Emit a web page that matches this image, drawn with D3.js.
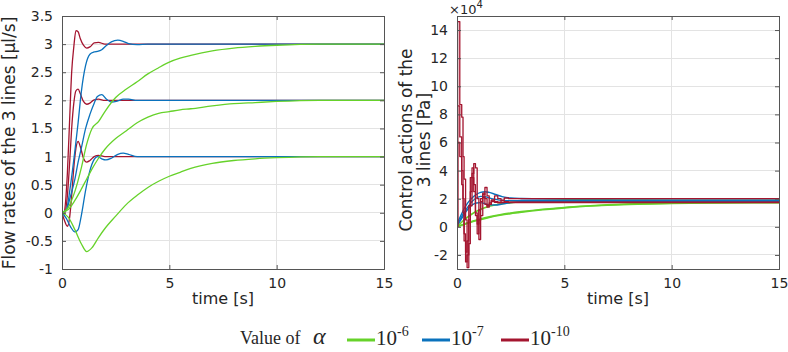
<!DOCTYPE html>
<html><head><meta charset="utf-8">
<script src="https://cdn.jsdelivr.net/npm/d3@7"></script>
<style>
body{margin:0;background:#fff;}
svg{display:block;}
text{font-family:"DejaVu Sans",Verdana,sans-serif;fill:#262626;}
</style></head>
<body>
<svg id="chart" width="788" height="352"></svg>
<script>
// ---------- DATA ----------
const xTicks = [0, 5, 10, 15];
const flowYTicks = [-1, -0.5, 0, 0.5, 1, 1.5, 2, 2.5, 3, 3.5];
const flowYLabels = ["-1", "-0.5", "0", "0.5", "1", "1.5", "2", "2.5", "3", "3.5"];
const ctrlYTicks = [-2, 0, 2, 4, 6, 8, 10, 12, 14];

const alphaExp = ["-6", "-7", "-10"];
const alphaColors = ["#66d22a", "#0a72bd", "#a4152f"];

// Flow rates, alpha = 1e-6 (green)
const flowGreenT = [0, 0.3, 0.6, 0.9, 1.15, 1.4, 1.7, 2.0, 2.5, 3.0, 3.5, 4.0, 4.5, 5, 5.5, 6, 7, 8, 9, 10, 12, 15];
const flowGreen1 = [0, -0.08, -0.3, -0.55, -0.69, -0.62, -0.44, -0.28, -0.06, 0.15, 0.31, 0.45, 0.56, 0.65, 0.72, 0.79, 0.88, 0.93, 0.96, 0.98, 1.0, 1.0];
const flowGreen2 = [0, 0.06, 0.22, 0.42, 0.6, 0.78, 0.97, 1.13, 1.32, 1.46, 1.6, 1.7, 1.77, 1.8, 1.83, 1.85, 1.9, 1.94, 1.96, 1.98, 2.0, 2.0];
const flowGreen3 = [0, 0.1, 0.38, 0.8, 1.22, 1.5, 1.62, 1.8, 2.05, 2.2, 2.33, 2.47, 2.58, 2.68, 2.75, 2.8, 2.88, 2.93, 2.96, 2.98, 3.0, 3.0];

// Flow rates, alpha = 1e-7 (blue)
const flowBlueT = [0, 0.2, 0.4, 0.6, 0.75, 0.9, 1.1, 1.3, 1.5, 1.65, 1.85, 2.05, 2.3, 2.6, 2.85, 3.1, 3.5, 4, 15];
const flowBlue1 = [0, -0.1, -0.25, -0.34, -0.3, -0.05, 0.4, 0.75, 0.95, 1.0, 0.96, 0.94, 0.97, 1.04, 1.06, 1.04, 1.0, 1.0, 1.0];
const flowBlue2 = [0, 0.05, 0.3, 0.6, 0.9, 1.15, 1.5, 1.75, 1.95, 2.07, 2.1, 2.03, 1.97, 1.99, 2.02, 2.02, 2.0, 2.0, 2.0];
const flowBlue3 = [0, 0.05, 0.5, 1.1, 1.6, 2.15, 2.62, 2.82, 2.86, 2.87, 2.9, 2.97, 3.04, 3.07, 3.05, 3.01, 2.99, 3.0, 3.0];

// Flow rates, alpha = 1e-10 (red)
const flowRedT = [0, 0.1, 0.25, 0.35, 0.45, 0.55, 0.65, 0.75, 0.85, 1.0, 1.15, 1.3, 1.5, 1.7, 2.0, 15];
const flowRed1 = [0, -0.12, -0.24, -0.1, 0.3, 0.8, 1.15, 1.27, 1.18, 0.97, 0.9, 0.93, 1.0, 1.02, 1.0, 1.0];
const flowRed2 = [0, -0.02, 0.3, 0.85, 1.5, 1.95, 2.17, 2.2, 2.12, 1.98, 1.93, 1.95, 2.01, 2.02, 2.0, 2.0];
const flowRed3 = [0, 0.02, 0.7, 1.6, 2.5, 2.95, 3.24, 3.22, 3.1, 2.98, 2.93, 2.95, 3.02, 3.03, 3.0, 3.0];

// Control actions (x 1e4 Pa), alpha = 1e-6 (green)
const ctrlGreenT = [0, 0.25, 0.5, 0.75, 1.0, 1.5, 2.0, 2.5, 3, 4, 5, 6, 7, 8, 10, 12, 15];
const ctrlGreen1 = [0, 0.13, 0.26, 0.38, 0.48, 0.67, 0.82, 0.94, 1.04, 1.21, 1.35, 1.46, 1.54, 1.6, 1.67, 1.7, 1.72];
const ctrlGreen2 = [0, 0.15, 0.29, 0.41, 0.52, 0.71, 0.86, 0.98, 1.08, 1.25, 1.38, 1.48, 1.56, 1.62, 1.68, 1.72, 1.74];
const ctrlGreen3 = [0, 0.38, 0.7, 0.97, 1.18, 1.46, 1.62, 1.72, 1.79, 1.87, 1.92, 1.95, 1.97, 1.98, 2.0, 2.0, 2.0];

// Control actions, alpha = 1e-7 (blue)
const ctrlBlueT = [0, 0.1, 0.3, 0.5, 0.7, 0.9, 1.1, 1.3, 1.5, 1.8, 2.1, 2.5, 3, 4, 15];
const ctrlBlue1 = [0.1, 0.3, 0.8, 1.25, 1.55, 1.7, 1.72, 1.65, 1.56, 1.55, 1.62, 1.72, 1.78, 1.79, 1.78];
const ctrlBlue2 = [0.2, 0.4, 0.95, 1.4, 1.8, 2.05, 2.17, 2.15, 2.06, 1.95, 1.88, 1.86, 1.87, 1.88, 1.88];
const ctrlBlue3 = [0.3, 0.55, 1.2, 1.7, 2.05, 2.3, 2.45, 2.5, 2.45, 2.3, 2.15, 2.05, 2.02, 2.0, 2.0];

// Control actions, alpha = 1e-10 (red, stair steps)
const ctrlRedT = [0, 0.03, 0.13, 0.22, 0.28, 0.33, 0.4, 0.47, 0.55, 0.62, 0.7, 0.78, 0.86, 0.94, 1.02, 1.1, 1.2, 1.3, 1.4, 1.5, 1.6, 1.75, 1.9, 2.05, 2.2, 2.4, 2.6, 15];
const ctrlRed1 = [0, 6.0, 5.0, 3.0, 1.0, -1.0, -2.5, -2.0, 0.5, 2.5, 3.5, 2.5, 0.8, 0.2, 1.2, 2.0, 2.1, 1.6, 1.4, 1.6, 1.8, 1.75, 1.7, 1.72, 1.74, 1.73, 1.73, 1.73];
const ctrlRed2 = [0, 8.6, 6.4, 4.0, 2.0, -0.5, -1.8, -1.0, 1.5, 3.5, 4.2, 3.0, 1.0, -0.5, 0.5, 1.8, 2.4, 2.0, 1.5, 1.7, 1.9, 1.8, 1.75, 1.85, 1.8, 1.75, 1.75, 1.75];
const ctrlRed3 = [0, 14.6, 8.7, 7.8, 5.0, 3.4, 0.5, -2.9, -1.2, 1.5, 3.8, 4.5, 4.2, 2.0, -0.9, 0.8, 2.3, 2.8, 2.2, 1.6, 1.9, 2.2, 2.0, 1.9, 2.05, 2.0, 2.0, 2.0];

// ---------- DRAW ----------
const svg = d3.select("#chart");
const zip = (t, v) => t.map((d, i) => [d, v[i]]);

const panels = [
  {
    x: d3.scaleLinear().domain([0, 15]).range([62, 384]),
    y: d3.scaleLinear().domain([-1, 3.5]).range([269, 16]),
    yTicks: flowYTicks, yFmt: (d, i) => flowYLabels[i],
    series: [
      {t: flowRedT, vs: [flowRed1, flowRed2, flowRed3], c: 2, w: 1.3},
      {t: flowBlueT, vs: [flowBlue1, flowBlue2, flowBlue3], c: 1, w: 1.3},
      {t: flowGreenT, vs: [flowGreen1, flowGreen2, flowGreen3], c: 0, w: 1.3}
    ],
    curve: d3.curveMonotoneX
  },
  {
    x: d3.scaleLinear().domain([0, 15]).range([457, 779]),
    y: d3.scaleLinear().domain([-3, 15]).range([269, 16]),
    yTicks: ctrlYTicks, yFmt: d => String(d),
    series: [
      {t: ctrlGreenT, vs: [ctrlGreen1, ctrlGreen2, ctrlGreen3], c: 0, w: 1.6, curve: d3.curveMonotoneX},
      {t: ctrlBlueT, vs: [ctrlBlue1, ctrlBlue2, ctrlBlue3], c: 1, w: 1.4, curve: d3.curveMonotoneX},
      {t: ctrlRedT, vs: [ctrlRed1, ctrlRed2, ctrlRed3], c: 2, w: 1.3, curve: d3.curveStepAfter}
    ]
  }
];

panels.forEach((p, pi) => {
  const g = svg.append("g");
  const [x0, x1] = p.x.range();
  const [y0, y1] = p.y.range();
  const clipId = "clip" + pi;
  svg.append("clipPath").attr("id", clipId).append("rect")
    .attr("x", x0).attr("y", y1).attr("width", x1 - x0).attr("height", y0 - y1);

  // grid
  g.append("g").selectAll("line").data(p.yTicks).join("line")
    .attr("x1", x0).attr("x2", x1).attr("y1", d => p.y(d)).attr("y2", d => p.y(d))
    .attr("stroke", "#e3e3e3").attr("stroke-width", 1).attr("shape-rendering", "crispEdges");
  g.append("g").selectAll("line").data(xTicks).join("line")
    .attr("y1", y0).attr("y2", y1).attr("x1", d => p.x(d)).attr("x2", d => p.x(d))
    .attr("stroke", "#e3e3e3").attr("stroke-width", 1).attr("shape-rendering", "crispEdges");

  // lines
  const lg = g.append("g").attr("clip-path", `url(#${clipId})`);
  p.series.forEach(s => {
    const line = d3.line().x(d => p.x(d[0])).y(d => p.y(d[1])).curve(s.curve || p.curve);
    s.vs.forEach(v => {
      lg.append("path").datum(zip(s.t, v)).attr("d", line)
        .attr("fill", "none").attr("stroke", alphaColors[s.c]).attr("stroke-width", s.w)
        .attr("stroke-linejoin", "round");
    });
  });

  // axes (inward ticks, mirrored)
  const axB = d3.axisBottom(p.x).tickValues(xTicks).tickSize(-4).tickPadding(9);
  const axT = d3.axisTop(p.x).tickValues(xTicks).tickSize(-4).tickFormat("");
  const axL = d3.axisLeft(p.y).tickValues(p.yTicks).tickSize(-4).tickPadding(9).tickFormat(p.yFmt);
  const axR = d3.axisRight(p.y).tickValues(p.yTicks).tickSize(-4).tickFormat("");
  [[axB, `translate(0,${y0})`], [axT, `translate(0,${y1})`], [axL, `translate(${x0},0)`], [axR, `translate(${x1},0)`]]
    .forEach(([ax, tr]) => {
      const a = g.append("g").attr("transform", tr).call(ax);
      a.select(".domain").attr("stroke", "#555").attr("stroke-width", 1);
      a.selectAll(".tick line").attr("stroke", "#555");
      a.selectAll(".tick text").style("font-family", "'DejaVu Sans', Verdana, sans-serif")
        .style("font-size", "14px").attr("fill", "#262626");
    });

  // x label
  g.append("text").attr("x", (x0 + x1) / 2).attr("y", 304).attr("text-anchor", "middle")
    .style("font-size", "16px").text("time [s]");
});

// y labels
svg.append("text").attr("transform", "translate(15,143) rotate(-90)").attr("text-anchor", "middle")
  .style("font-size", "17px").text("Flow rates of the 3 lines [µl/s]");
svg.append("text").attr("transform", "translate(412,140) rotate(-90)").attr("text-anchor", "middle")
  .style("font-size", "17px").text("Control actions of the");
svg.append("text").attr("transform", "translate(430,140) rotate(-90)").attr("text-anchor", "middle")
  .style("font-size", "17px").text("3 lines [Pa]");

// exponent label
const ex = svg.append("text").attr("x", 449).attr("y", 14).style("font-size", "13px");
ex.append("tspan").text("×10");
ex.append("tspan").attr("dy", -6).style("font-size", "10px").text("4");

// legend
const serif = "'Liberation Serif','Times New Roman',serif";
const leg = svg.append("g");
const lt = leg.append("text").attr("x", 240).attr("y", 344).style("font-family", serif).style("font-size", "18px");
lt.append("tspan").text("Value of ");
lt.append("tspan").attr("dx", 8).style("font-style", "italic").style("font-size", "24px").text("α");
const legX = [347, 422, 501];
alphaExp.forEach((e, i) => {
  leg.append("line").attr("x1", legX[i]).attr("x2", legX[i] + 28).attr("y1", 340).attr("y2", 340)
    .attr("stroke", alphaColors[i]).attr("stroke-width", 3);
  const t = leg.append("text").attr("x", legX[i] + 29).attr("y", 345)
    .style("font-family", serif).style("font-size", "21px");
  t.append("tspan").text("10");
  t.append("tspan").attr("dy", -9).style("font-size", "14px").text(e);
});
</script>
</body></html>
